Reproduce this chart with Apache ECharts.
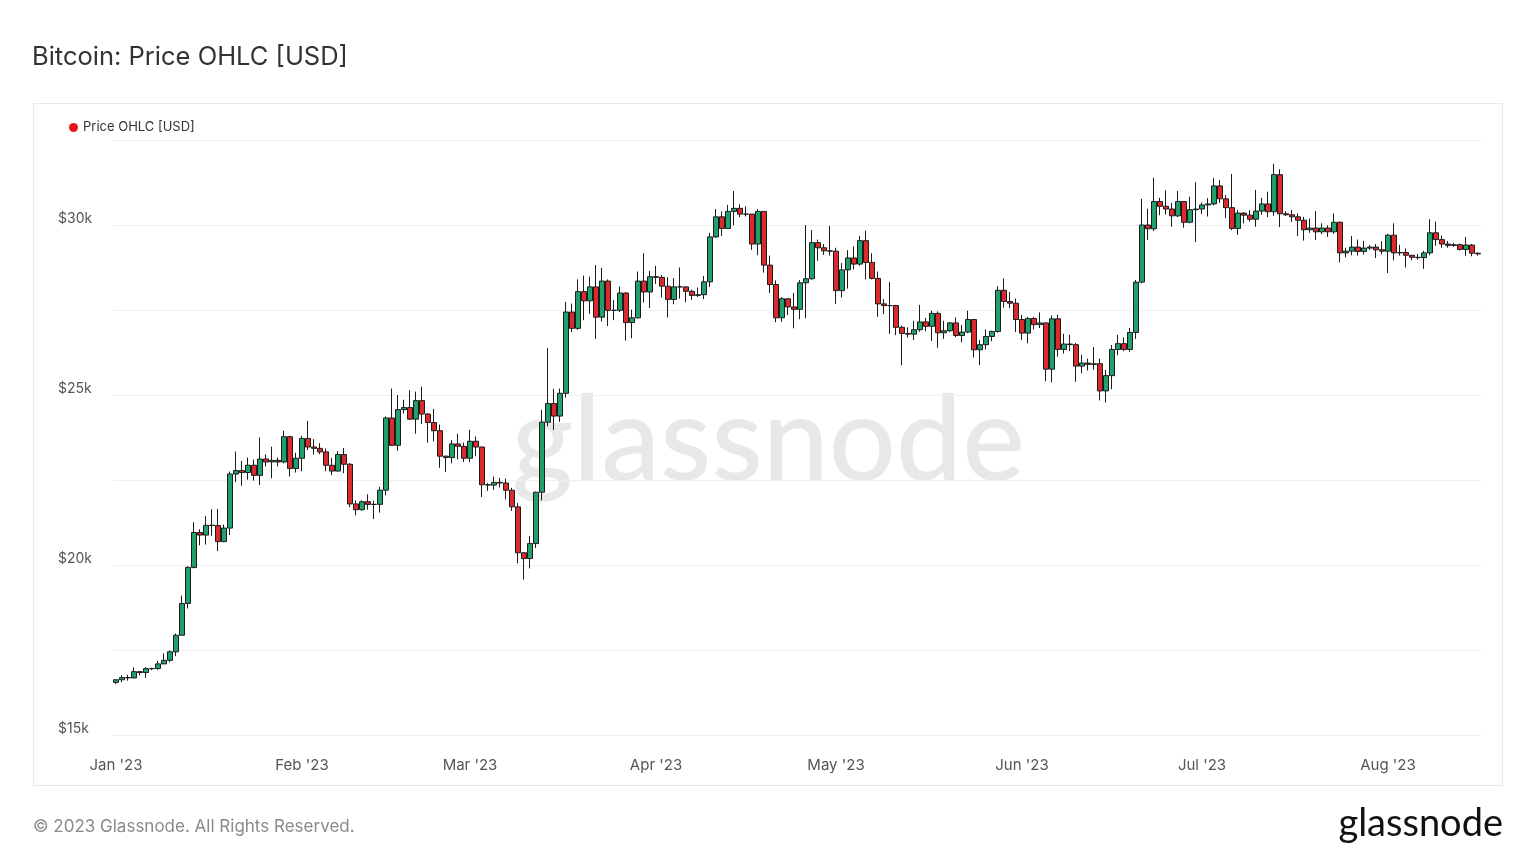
<!DOCTYPE html>
<html>
<head>
<meta charset="utf-8">
<script src="https://cdn.jsdelivr.net/npm/echarts@6/dist/echarts.min.js"></script>
<style>
html,body{margin:0;padding:0;background:#fff;}
#chart{width:1536px;height:864px;}
</style>
</head>
<body>
<div id="chart"></div>
<script>
// Daily candles, each row: [open, close, low, high]
const jan = [
[16547,16625,16499,16630],[16625,16688,16551,16760],[16688,16680,16600,16772],[16680,16863,16660,16990],
[16863,16836,16753,16885],[16836,16951,16680,17000],[16951,16955,16909,16974],[16955,17091,16909,17176],
[17091,17197,17091,17398],[17197,17446,17141,17490],[17446,17934,17318,17986],[17934,18869,17934,19098],
[18869,19930,18720,19964],[19930,20954,19900,21258],[20954,20880,20580,21050],[20880,21169,20600,21440],
[21169,21161,20860,21640],[21161,20688,20410,21650],[20688,21086,20670,21190],[21086,22676,20880,22750],
[22676,22777,22440,23340],[22777,22720,22330,23060],[22720,22934,22510,23160],[22934,22636,22480,23100],
[22636,23117,22350,23750],[23117,23032,22900,23250],[23032,23078,22550,23480],[23078,23031,22900,23160],
[23031,23774,22990,23950],[23774,22840,22600,23800],[22840,23139,22720,23300]
];
const feb = [
[23139,23723,22760,23800],[23723,23471,23380,24240],[23471,23431,23250,23700],[23431,23327,23260,23580],
[23327,22932,22760,23430],[22932,22762,22640,23150],[22762,23249,22750,23350],[23249,22963,22700,23440],
[22963,21797,21700,23000],[21797,21626,21460,21900],[21626,21862,21600,21900],[21862,21783,21630,22080],
[21783,21784,21350,21890],[21784,22200,21540,22300],[22200,24325,22050,24370],[24325,23520,23500,25190],
[23520,24570,23360,25000],[24570,24630,24460,24860],[24630,24290,24270,25140],[24290,24835,23860,25100],
[24835,24440,24150,25250],[24440,24190,23600,24470],[24190,23950,23640,24590],[23950,23200,22860,24130],
[23200,23160,22740,23220],[23160,23560,22990,23670],[23560,23490,23110,23860],[23490,23140,23030,23600]
];
const mar = [
[23140,23640,23030,23980],[23640,23470,23200,23780],[23470,22360,22000,23480],[22360,22350,22180,22410],
[22350,22430,22210,22600],[22430,22410,22280,22560],[22410,22200,21930,22540],[22200,21710,21590,22270],
[21710,20360,20050,21820],[20360,20190,19570,20370],[20190,20630,19900,20850],[20630,22140,20500,22160],
[22140,24200,21900,24560],[24200,24750,24080,26380],[24750,24380,23970,25180],[24380,25050,24210,25190],
[25050,27440,24920,27740],[27440,26960,26850,27690],[26960,28040,26920,28400],[28040,27770,27200,28510],
[27770,28180,27390,28480],[28180,27290,26650,28820],[27290,28350,27160,28740],[28350,27490,27030,28400],
[27490,27490,27200,27790],[27490,28000,27440,28190],[28000,27130,26600,28020],[27130,27270,26670,27510],
[27270,28350,27250,28630],[28350,28030,27720,29170],[28030,28480,27560,28650]
];
const apr = [
[28480,28460,28270,28800],[28460,28200,27870,28530],[28200,27810,27280,28470],[27810,28180,27670,28440],
[28180,28180,27830,28750],[28180,28050,27730,28190],[28050,27930,27800,28100],[27930,27950,27880,28160],
[27950,28330,27820,28500],[28330,29650,28180,29770],[29650,30240,29620,30470],[30240,29900,29680,30400],
[29900,30400,29890,30590],[30400,30490,29990,31000],[30490,30320,30230,30610],[30320,30320,30250,30550],
[30320,29440,29270,30320],[29440,30400,29110,30470],[30400,28820,28600,30410],[28820,28250,28000,29100],
[28250,27270,27140,28370],[27270,27830,27150,27880],[27830,27590,27350,27830],[27590,27520,26960,28000],
[27520,28300,27230,28380],[28300,28420,27260,30000],[28420,29480,28390,29850],[29480,29330,28950,29570],
[29330,29240,29120,29440],[29240,29230,29100,29970]
];
const may = [
[29230,28070,27680,29330],[28070,28680,27870,28880],[28680,29030,28130,29260],[29030,28850,28690,29370],
[28850,29540,28800,29680],[29540,28900,28400,29830],[28900,28430,28400,29170],[28430,27680,27300,28630],
[27680,27630,27380,27820],[27630,27630,26800,28320],[27630,26990,26760,27650],[26990,26810,25870,27040],
[26810,26790,26690,26990],[26790,26920,26620,27180],[26920,27150,26860,27650],[27150,27020,26870,27270],
[27020,27400,26590,27480],[27400,26830,26390,27460],[26830,26890,26650,27180],[26890,27120,26850,27150],
[27120,26750,26700,27280],[26750,26850,26550,27060],[26850,27220,26820,27480],[27220,26330,26100,27220],
[26330,26480,25880,26620],[26480,26720,26340,26930],[26720,26870,26580,26890],[26870,28080,26830,28200],
[28080,27750,27570,28430],[27750,27700,27560,28030],[27700,27220,26850,27840]
];
const jun = [
[27220,26820,26620,27350],[26820,27250,26520,27300],[27250,27070,26930,27300],[27070,27120,26970,27430],
[27120,25760,25400,27130],[25760,27240,25370,27340],[27240,26340,26130,27360],[26340,26500,26220,26800],
[26500,26480,26290,26770],[26480,25850,25390,26530],[25850,25940,25640,26180],[25940,25900,25720,26070],
[25900,25920,25740,26410],[25920,25120,24840,26070],[25120,25570,24780,25740],[25570,26340,25170,26470],
[26340,26510,26170,26770],[26510,26340,26290,26690],[26340,26840,26270,26970],[26840,28320,26650,28380],
[28320,30000,28280,30770],[30000,29890,29560,30480],[29890,30690,29820,31390],[30690,30550,30290,30800],
[30550,30470,30310,31020],[30470,30270,29950,30650],[30270,30690,30230,31000],[30690,30080,29920,30700],
[30080,30450,30050,30830],[30450,30470,29500,31260]
];
const jul = [
[30470,30590,30320,30660],[30590,30620,30250,30790],[30620,31150,30580,31380],[31150,30770,30650,31320],
[30770,30510,30200,30880],[30510,29900,29850,31500],[29900,30350,29710,30440],[30350,30290,30050,30380],
[30290,30170,30100,30440],[30170,30410,29950,31030],[30410,30620,30300,30800],[30620,30390,30230,30980],
[30390,31480,30270,31800],[31480,30330,29940,31640],[30330,30300,30260,30410],[30300,30240,30090,30440],
[30240,30140,29680,30340],[30140,29860,29540,30240],[29860,29910,29770,30190],[29910,29800,29560,30410],
[29800,29910,29730,30050],[29910,29800,29650,29990],[29800,30080,29740,30340],[30080,29180,28900,30100],
[29180,29230,29050,29330],[29230,29350,29110,29680],[29350,29220,29100,29570],[29220,29320,29130,29530],
[29320,29350,29270,29410],[29350,29270,29030,29440],[29270,29230,29140,29520]
];
const aug = [
[29230,29700,28590,29740],[29700,29180,28960,30050],[29180,29190,29100,29420],[29190,29110,28750,29310],
[29110,29050,28960,29120],[29050,29040,28980,29150],[29040,29180,28710,29240],[29180,29770,29110,30170],
[29770,29570,29390,30100],[29570,29440,29330,29690],[29440,29400,29330,29530],[29400,29420,29360,29470],
[29420,29280,29250,29450],[29280,29410,29090,29650],[29410,29170,29080,29440],[29170,29150,29100,29200]
];
const monthNames = ['Jan','Feb','Mar','Apr','May','Jun','Jul','Aug','Sep','Oct','Nov','Dec'];
const startDate = '2023-01-01';
const yTicks = [15000, 17500, 20000, 22500, 25000, 27500, 30000, 32500];

const candles = [].concat(jan, feb, mar, apr, may, jun, jul, aug);
const dates = [];
(function(){
  const d0 = new Date(startDate + 'T00:00:00Z');
  for (let i = 0; i < candles.length; i++) {
    const d = new Date(d0.getTime() + i * 86400000);
    dates.push(d.toISOString().slice(0,10));
  }
})();

const FONT = 'Inter, "Noto Sans", sans-serif';
const chart = echarts.init(document.getElementById('chart'), null, {renderer:'canvas'});
chart.setOption({
  animation: false,
  backgroundColor: '#ffffff',
  textStyle: {fontFamily: FONT},
  title: {
    text: 'Bitcoin: Price OHLC [USD]',
    left: 32, top: 44, padding: 0,
    textStyle: {fontFamily: FONT, fontSize: 25.5, fontWeight: 'normal', color: '#333333'}
  },
  legend: {
    left: 69, top: 121, padding: 0,
    itemWidth: 9, itemHeight: 9, itemGap: 6,
    data: [{name: 'Price OHLC [USD]', icon: 'circle', itemStyle: {color: '#e4141b', borderWidth: 0}}],
    textStyle: {fontFamily: FONT, fontSize: 13, color: '#333333', padding: [1,0,0,0]}
  },
  graphic: [
    {type:'rect', z:-10, silent:true, shape:{x:33.5, y:103.5, width:1469, height:682},
     style:{fill:'none', stroke:'#e8e8e8', lineWidth:1}},
    {type:'text', z:-5, silent:true, left:'center', top:383,
     style:{text:'glassnode', font:'500 118px Lato, Inter, sans-serif', fill:'#e8e8e8'}},
    {type:'text', silent:true, left:33, top:818,
     style:{text:'\u00a9 2023 Glassnode. All Rights Reserved.', font:'17px ' + FONT, fill:'#8a8a8a'}},
    {type:'text', silent:true, right:33, top:805,
     style:{text:'glassnode', font:'normal 38px Lato, Inter, sans-serif', fill:'#111111'}}
  ],
  grid: {left: 113, right: 55, top: 140, bottom: 129, containLabel: false},
  xAxis: {
    type: 'category',
    data: dates,
    boundaryGap: true,
    axisLine: {show: true, lineStyle: {color: '#eeeeee'}},
    axisTick: {show: false},
    splitLine: {show: false},
    axisLabel: {
      interval: function(i, v){ return v.slice(8,10) === '01'; },
      formatter: function(v){ return monthNames[parseInt(v.slice(5,7),10)-1] + " '" + v.slice(2,4); },
      fontFamily: FONT, fontSize: 15, color: '#555555', margin: 23
    }
  },
  yAxis: {
    type: 'value',
    min: yTicks[0], max: yTicks[yTicks.length-1], interval: 2500,
    axisLine: {show: false},
    axisTick: {show: false},
    splitLine: {show: true, lineStyle: {color: '#efefef', width: 1}},
    axisLabel: {
      formatter: function(v){ return (v % 5000 === 0) ? '$' + (v/1000) + 'k' : ''; },
      align: 'left', verticalAlign: 'bottom', margin: 55,
      fontFamily: FONT, fontSize: 14, color: '#555555', padding: [0,0,-1,0]
    }
  },
  series: [{
    name: 'Price OHLC [USD]',
    type: 'candlestick',
    data: candles,
    barWidth: 5,
    itemStyle: {
      color: '#22a06b', color0: '#d92b2b',
      borderColor: '#1c1c1c', borderColor0: '#1c1c1c',
      borderWidth: 1
    }
  }]
});
</script>
</body>
</html>
